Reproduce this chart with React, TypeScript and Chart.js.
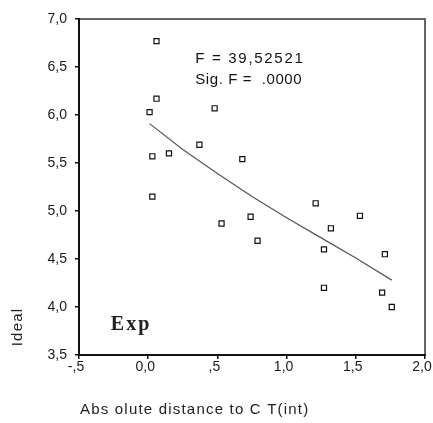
import React, { useEffect, useRef } from "react";
import { Chart, registerables } from "chart.js";

Chart.register(...registerables);

const pointX = [0.06, 0.06, 0.01, 0.03, 0.15, 0.03, 0.37, 0.48, 0.68, 1.21, 0.74, 1.53, 0.53, 0.79, 1.32, 1.27, 1.71, 1.27, 1.69, 1.76];
const pointY = [6.77, 6.17, 6.03, 5.57, 5.60, 5.15, 5.69, 6.07, 5.54, 5.08, 4.94, 4.95, 4.87, 4.69, 4.82, 4.60, 4.55, 4.20, 4.15, 4.00];

const fitX = [0.01, 0.25, 0.5, 0.75, 1.0, 1.25, 1.5, 1.76];
const fitY = [5.91, 5.64, 5.39, 5.15, 4.93, 4.72, 4.51, 4.28];

const xTickValues = [-0.5, 0, 0.5, 1, 1.5, 2];
const xTickLabels = ["-,5", "0,0", ",5", "1,0", "1,5", "2,0"];
const yTickValues = [3.5, 4, 4.5, 5, 5.5, 6, 6.5, 7];
const yTickLabels = ["3,5", "4,0", "4,5", "5,0", "5,5", "6,0", "6,5", "7,0"];

const statLines = ["F = 39,52521", "Sig. F =  .0000"];
const modelLabel = "Exp";
const xTitle = "Abs olute distance to C T(int)";
const yTitle = "Ideal";

const SANS = "'Liberation Sans', Arial, sans-serif";

function labelFor(values: number[], labels: string[], v: number) {
  const i = values.findIndex((t) => Math.abs(t - v) < 1e-6);
  return i >= 0 ? labels[i] : "";
}

const decorPlugin = {
  id: "decor",
  afterDraw(chart: any) {
    const { ctx, chartArea: a, scales } = chart;
    ctx.save();
    // frame
    ctx.lineWidth = 2;
    ctx.strokeStyle = "#666";
    ctx.beginPath();
    ctx.moveTo(a.left, a.top);
    ctx.lineTo(a.right, a.top);
    ctx.lineTo(a.right, a.bottom);
    ctx.stroke();
    ctx.strokeStyle = "#111";
    ctx.beginPath();
    ctx.moveTo(a.left, a.top - 1);
    ctx.lineTo(a.left, a.bottom);
    ctx.lineTo(a.right + 1, a.bottom);
    ctx.stroke();

    // stats text
    ctx.fillStyle = "#111";
    ctx.font = `15px ${SANS}`;
    ctx.textAlign = "left";
    ctx.textBaseline = "middle";
    const sx = scales.x.getPixelForValue(0.34);
    (ctx as any).letterSpacing = "1.7px";
    ctx.fillText(statLines[0], sx, scales.y.getPixelForValue(6.58));
    (ctx as any).letterSpacing = "0.6px";
    ctx.fillText(statLines[1], sx, scales.y.getPixelForValue(6.37));

    // model label
    (ctx as any).letterSpacing = "2px";
    ctx.font = `bold 20px 'Liberation Serif', 'Times New Roman', serif`;
    ctx.fillStyle = "#222";
    ctx.fillText(modelLabel, scales.x.getPixelForValue(-0.27), scales.y.getPixelForValue(3.81));

    // axis titles
    ctx.font = `15px ${SANS}`;
    (ctx as any).letterSpacing = "1.2px";
    ctx.fillStyle = "#222";
    ctx.fillText(xTitle, 80, 410);
    ctx.save();
    ctx.translate(18, 327);
    ctx.rotate(-Math.PI / 2);
    ctx.textAlign = "center";
    ctx.fillText(yTitle, 0, 0);
    ctx.restore();
    ctx.restore();
  },
};

export default function App() {
  const ref = useRef<HTMLCanvasElement>(null);
  useEffect(() => {
    document.body.style.margin = "0";
    const canvas = ref.current!;
    const chart = new Chart(canvas, {
      type: "scatter",
      data: {
        datasets: [
          {
            type: "line",
            data: fitX.map((x, i) => ({ x, y: fitY[i] })),
            borderColor: "#555",
            borderWidth: 1.2,
            pointRadius: 0,
            fill: false,
            tension: 0,
          } as any,
          {
            data: pointX.map((x, i) => ({ x, y: pointY[i] })),
            pointStyle: "rect",
            pointRadius: 3.6,
            borderWidth: 1.2,
            borderColor: "#111",
            backgroundColor: "#fff",
          },
        ],
      },
      options: {
        responsive: false,
        animation: false,
        devicePixelRatio: 1,
        layout: { padding: { left: 0, top: 19, right: 8, bottom: 0 } },
        plugins: { legend: { display: false }, tooltip: { enabled: false } },
        scales: {
          x: {
            type: "linear",
            min: -0.5,
            max: 2,
            afterBuildTicks: (s: any) => {
              s.ticks = xTickValues.map((value) => ({ value }));
            },
            afterFit: (s: any) => {
              s.height = 68;
              s.paddingLeft = 0;
              s.paddingRight = 0;
            },
            ticks: {
              callback: (v: any) => labelFor(xTickValues, xTickLabels, Number(v)),
              font: { family: SANS, size: 14 },
              color: "#1a1a1a",
              padding: 0,
              maxRotation: 0,
              labelOffset: -3,
            },
            grid: { drawOnChartArea: false, drawTicks: true, tickLength: 4, color: "#111", lineWidth: 1.5 },
            border: { display: false },
          },
          y: {
            type: "linear",
            min: 3.5,
            max: 7,
            afterBuildTicks: (s: any) => {
              s.ticks = yTickValues.map((value) => ({ value }));
            },
            afterFit: (s: any) => {
              s.width = 79;
              s.paddingTop = 0;
              s.paddingBottom = 0;
            },
            ticks: {
              callback: (v: any) => labelFor(yTickValues, yTickLabels, Number(v)),
              font: { family: SANS, size: 14 },
              color: "#1a1a1a",
              padding: 8,
            },
            grid: { drawOnChartArea: false, drawTicks: true, tickLength: 4, color: "#111", lineWidth: 1.5 },
            border: { display: false },
          },
        },
      },
      plugins: [decorPlugin],
    });
    return () => chart.destroy();
  }, []);
  return <canvas ref={ref} width={433} height={423} style={{ display: "block" }} />;
}
